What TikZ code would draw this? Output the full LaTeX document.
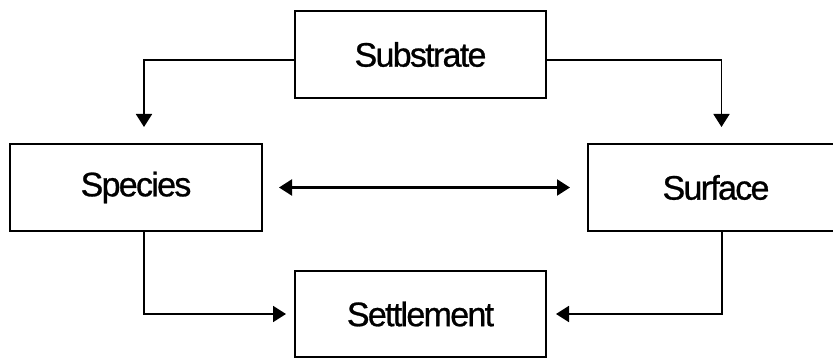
\documentclass[tikz,border=0pt]{standalone}
\usepackage{fontspec}
\setmainfont{Liberation Sans}[LetterSpace=-5,FakeBold=0.8]
\usetikzlibrary{arrows.meta}
\begin{document}
\begin{tikzpicture}[x=1pt,y=-1pt,
  box/.style={draw,line width=2pt,inner sep=0pt,minimum height=87pt,font=\fontsize{34}{40}\selectfont},
  conn/.style={line width=1.8pt,-{Triangle[length=13pt,width=16pt]}},
  dconn/.style={line width=2.2pt,{Triangle[length=13pt,width=16pt]}-{Triangle[length=13pt,width=16pt]}}]
\useasboundingbox (0,0) rectangle (833,358);
\clip (0,0) rectangle (833,358);
\node[box,minimum width=251pt] (sub) at (420.5,54.5) {Substrate};
\node[box,minimum width=252pt] (spe) at (136,187.5) {Species};
\node[box,minimum width=256pt] (sur) at (716,187.5) {Surface};
\node[box,minimum width=251pt,minimum height=86pt] (set) at (420.5,314) {Settlement};
\draw[conn,shorten >=16pt] ([yshift=-5.5pt]sub.west) -| ([xshift=8pt]spe.north);
\draw[conn,shorten >=16pt] ([yshift=-5.5pt]sub.east) -| ([xshift=5.5pt]sur.north);
\draw[dconn,shorten <=16pt,shorten >=17pt] (spe.east) -- (sur.west);
\draw[conn,shorten >=8pt] ([xshift=8pt]spe.south) |- (set.west);
\draw[conn,shorten >=9pt] ([xshift=6pt]sur.south) |- (set.east);
\end{tikzpicture}
\end{document}
